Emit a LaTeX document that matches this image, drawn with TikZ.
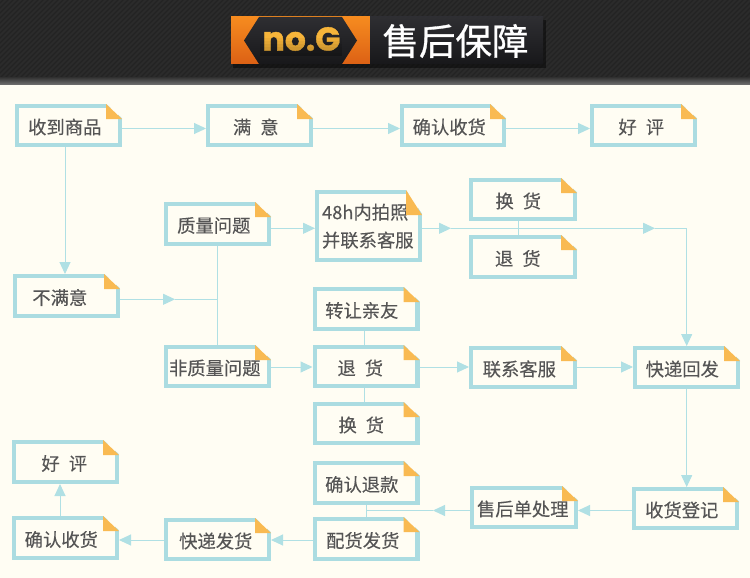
\documentclass[tikz,border=0pt]{standalone}
\usepackage{fontspec}
\setmainfont{Noto Sans CJK SC}[WordSpace=2.2,FakeBold=0.25]
\newfontfamily\nogfont{Poppins}[BoldFont={* Bold},BoldFeatures={FakeBold=1.2}]
\newfontfamily\titlefont{Noto Sans CJK SC}[FakeBold=0.8]
\usetikzlibrary{arrows.meta,calc}
\definecolor{pagebg}{HTML}{FFFDF3}
\definecolor{boxedge}{HTML}{ABDCE1}
\definecolor{connline}{HTML}{B0E0E4}
\definecolor{foldcol}{HTML}{F9BA52}
\definecolor{textcol}{HTML}{555555}
\definecolor{headbase}{HTML}{2B2B2B}
\definecolor{headline}{HTML}{232323}
\definecolor{orangetop}{HTML}{F68B1F}
\definecolor{orangebot}{HTML}{DC6115}
\definecolor{paneltop}{HTML}{2E2E32}
\definecolor{panelbot}{HTML}{18181A}
\definecolor{goldtext}{HTML}{F7B53A}
\tikzset{
  flowbox/.style={draw=boxedge,line width=4.3pt,fill=pagebg,inner sep=0pt,text=textcol,font=\fontsize{18.3}{28}\selectfont},
  conn/.style={draw=connline,line width=1pt},
  tip/.style={conn,-{Triangle[length=12pt,width=11pt,fill=connline]}},
  titletext/.style={text=white,font=\titlefont\fontsize{36.5}{36}\selectfont,inner sep=0pt},
  nogtext/.style={font=\nogfont\bfseries\fontsize{33}{33}\selectfont,inner sep=0pt}
}
% name, x1, y1, x2, y2, text offset, fold height, text
\newcommand{\nbox}[8]{%
  \pgfmathsetmacro{\bcx}{(#2+#4)/2}%
  \pgfmathsetmacro{\bcy}{(#3+#5)/2}%
  \pgfmathsetmacro{\bw}{#4-#2-4.3}%
  \pgfmathsetmacro{\bh}{#5-#3-4.3}%
  \pgfmathsetmacro{\bk}{2*#6+1.4}%
  \node[flowbox,minimum width=\bw pt,minimum height=\bh pt] (#1) at (\bcx,\bcy) {\raisebox{-1.5pt}[\height][\depth]{#8}\kern\bk pt};
  \fill[pagebg] (#1.north east) ++(-16.5,-1) -- ++(17.5,0) -- ++(0,#7+1) -- cycle;
  \fill[foldcol] (#1.north east) ++(-16,0) -- ++(16,#7) -- ++(-16,0) -- cycle;
}
\begin{document}
\begin{tikzpicture}[x=1pt,y=-1pt]
\useasboundingbox (0,0) rectangle (750,578);
\fill[pagebg] (0,0) rectangle (750,578);
% header band
\fill[headbase] (0,0) rectangle (750,78);
\begin{scope}
  \clip (0,0) rectangle (750,78);
  \foreach \k in {0,5,...,840} {\draw[headline,line width=1.4pt] (\k,-2) -- ++(-84,84);}
\end{scope}
\shade[top color=black!78,bottom color=black!55] (0,78) rectangle (750,85);
% badge
\fill[black,opacity=.45] (233,20) rectangle (546,68);
\shade[top color=orangetop,bottom color=orangebot] (231,17) rectangle (370,64);
\shade[top color=paneltop,bottom color=panelbot] (259,17) -- (244,40.5) -- (259,64) -- (342,64) -- (357,40.5) -- (342,17) -- cycle;
\shade[top color=paneltop,bottom color=panelbot] (370,17) rectangle (543,64);
\node[titletext] (title) at (455.5,41) {售后保障};
\node[nogtext,text=goldtext] (nog) at (301.5,39) {no.G};
\foreach \yy/\oo in {38/.04,41/.08,44/.12,47/.16,50/.2,53/.24} {
  \fill[black,opacity=\oo] (260,\yy) rectangle (342,\yy+3);
}

\nbox{a1}{15}{104}{122}{147}{3}{15}{收到商品}
\nbox{a2}{206}{104}{313}{147}{3}{15}{满 意}
\nbox{a3}{400}{104}{506}{147}{3}{15}{确认收货}
\nbox{a4}{590}{104}{697}{147}{1.5}{15}{好 评}
\nbox{b1}{13}{274}{120}{318}{6}{15}{不满意}
\nbox{q}{164}{202}{271}{246}{3}{15}{质量问题}
\nbox{nq}{164}{345}{271}{388}{2}{15}{非质量问题}
\nbox{h}{315}{190}{422}{262}{0}{25}{\begin{tabular}{@{}l@{}}48h内拍照\\并联系客服\end{tabular}}
\nbox{x1}{469}{178}{577}{221}{4}{15}{换 货}
\nbox{x2}{469}{235}{577}{279}{4.5}{15}{退 货}
\nbox{t1}{312.5}{287}{419.5}{331}{3.5}{15}{转让亲友}
\nbox{t2}{312.5}{345}{419.5}{388}{5}{15}{退 货}
\nbox{t3}{312.5}{402}{419.5}{445}{4}{15}{换 货}
\nbox{k}{469}{346}{577}{389}{3}{15}{联系客服}
\nbox{e}{633}{346}{740}{389}{3.5}{15}{快递回发}
\nbox{r}{632}{487}{739}{530}{3}{15}{收货登记}
\nbox{s}{470}{486}{578}{529}{0.5}{15}{售后单处理}
\nbox{c1}{312.5}{461}{419.5}{505}{3.5}{15}{确认退款}
\nbox{c2}{312.5}{517}{419.5}{561}{2.5}{15}{配货发货}
\nbox{d}{164}{518}{271}{561}{1}{15}{快递发货}
\nbox{g2}{12}{516}{119}{560}{3.5}{15}{确认收货}
\nbox{g1}{12}{440}{119}{484}{0.5}{15}{好 评}

% guide coordinates for connector rows and columns
\coordinate (rowtop) at (0,128.5);
\coordinate (rowb) at (0,299.3);
\coordinate (rowq) at (0,228.3);
\coordinate (rowm) at (0,367);
\coordinate (rows) at (0,510.5);
\coordinate (rowd) at (0,540);
\coordinate (cola) at (65,0);
\coordinate (colg) at (60,0);
\coordinate (cole) at (686.7,0);
\coordinate (colc) at (366,0);
\coordinate (colt) at (364,0);
\coordinate (colx) at (518,0);
\coordinate (m1) at (175,299.3);
\coordinate (j1) at (217.5,299.3);
\coordinate (m2) at (451,228.3);
\coordinate (m3) at (655,228.3);
\coordinate (bend) at (686.7,228.3);
\coordinate (m4) at (433,510.5);
\coordinate (j2) at (366,510.5);

\draw[tip] (a1.east |- rowtop) -- (a2.west |- rowtop);
\draw[tip] (a2.east |- rowtop) -- (a3.west |- rowtop);
\draw[tip] (a3.east |- rowtop) -- (a4.west |- rowtop);
\draw[tip] (a1.south -| cola) -- (b1.north -| cola);
\draw[tip] (b1.east |- rowb) -- (m1);
\draw[conn] (m1) -- (j1);
\draw[conn] (q.south) -- (q.south |- nq.north);
\draw[tip] (q.east |- rowq) -- (h.west |- rowq);
\draw[tip] (h.east |- rowq) -- (m2);
\draw[tip] (m2) -- (m3);
\draw[conn] (m3) -- (bend);
\draw[tip] (bend) -- (e.north -| bend);
\draw[conn] (x1.south -| colx) -- (x2.north -| colx);
\draw[conn] (t1.south -| colt) -- (t2.north -| colt);
\draw[conn] (t2.south -| colt) -- (t3.north -| colt);
\draw[tip] (nq.east |- rowm) -- (t2.west |- rowm);
\draw[tip] (t2.east |- rowm) -- (k.west |- rowm);
\draw[tip] (k.east |- rowm) -- (e.west |- rowm);
\draw[tip] (e.south -| cole) -- (r.north -| cole);
\draw[tip] (r.west |- rows) -- (s.east |- rows);
\draw[tip] (s.west |- rows) -- (m4);
\draw[conn] (m4) -- (j2);
\draw[conn] (c1.south -| colc) -- (c2.north -| colc);
\draw[tip] (c2.west |- rowd) -- (d.east |- rowd);
\draw[tip] (d.west |- rowd) -- (g2.east |- rowd);
\draw[tip] (g2.north -| colg) -- (g1.south -| colg);
\end{tikzpicture}
\end{document}
